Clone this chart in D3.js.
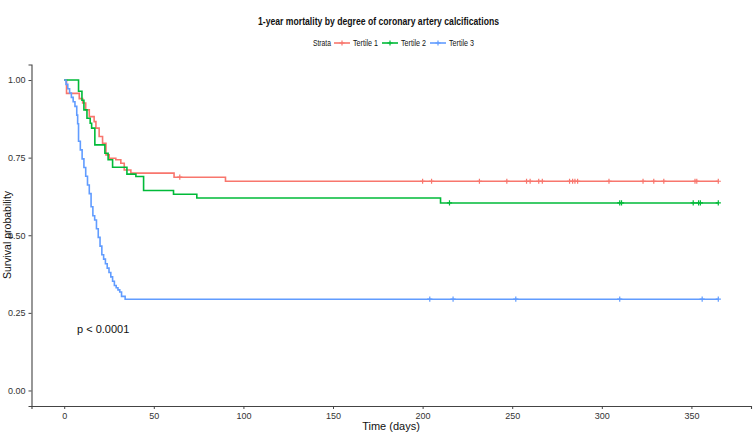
<!DOCTYPE html>
<html>
<head>
<meta charset="utf-8">
<script src="https://cdn.jsdelivr.net/npm/d3@7"></script>
<style>
  body { margin: 0; background: #fff; }
  svg { display: block; font-family: "Liberation Sans", Arial, sans-serif; }
</style>
</head>
<body>
<script>
// strata and their colours (ggplot default hue)
const strata = ['Tertile 1', 'Tertile 2', 'Tertile 3']
const colors = ['#F8766D', '#00BA38', '#619CFF']

// step times (days) and survival
const t1Times = [0, 1.3, 8.4, 10.3, 12, 14, 16.7, 17.7, 19.5, 21.4, 23.3, 25.1, 28.8, 31.6, 33.5, 37.2, 61.3, 90]
const t1Surv  = [1.00, 0.957, 0.940, 0.926, 0.904, 0.882, 0.866, 0.845, 0.818, 0.796, 0.759, 0.748, 0.743, 0.732, 0.710, 0.700, 0.687, 0.674]
const t1Censor = [64.5, 200, 205, 231.7, 247, 258, 260, 264.8, 266.8, 282, 283.7, 285, 286.5, 304, 323, 329, 334.6, 352, 353, 365]

const t2Times = [0, 8, 9.9, 11, 12.7, 14.5, 15.3, 17.1, 22.7, 24.5, 27, 35, 40, 44.3, 61, 74, 210]
const t2Surv  = [1.00, 0.964, 0.935, 0.904, 0.877, 0.861, 0.845, 0.791, 0.764, 0.743, 0.719, 0.697, 0.689, 0.644, 0.632, 0.620, 0.604]
const t2Censor = [215, 310, 311, 351, 354, 355, 365]

const t3Times = [0, 1, 2, 3, 4, 5, 6, 7, 7.5, 8, 9, 10, 11, 12, 13, 14, 15, 16, 17, 18, 19, 20, 21, 22, 23, 24, 25, 26, 27, 28, 29, 30, 31, 32, 34]
const t3Surv  = [1.00, 0.986, 0.972, 0.958, 0.944, 0.930, 0.915, 0.887, 0.859, 0.803, 0.775, 0.746, 0.718, 0.690, 0.662, 0.634, 0.592, 0.563, 0.549, 0.521, 0.493, 0.465, 0.437, 0.423, 0.408, 0.394, 0.380, 0.366, 0.352, 0.338, 0.331, 0.324, 0.317, 0.303, 0.294]
const t3Censor = [204, 217, 252, 310, 356, 365]

const xTicks = [0, 50, 100, 150, 200, 250, 300, 350]
const yTicks = [0, 0.25, 0.5, 0.75, 1]
const maxTime = 365

const series = [
  { name: strata[0], color: colors[0], times: t1Times, surv: t1Surv, censor: t1Censor },
  { name: strata[1], color: colors[1], times: t2Times, surv: t2Surv, censor: t2Censor },
  { name: strata[2], color: colors[2], times: t3Times, surv: t3Surv, censor: t3Censor },
]

const W = 753, H = 434
const svg = d3.select('body').append('svg').attr('width', W).attr('height', H)

const x = d3.scaleLinear().domain([-18.25, 383.25]).range([31.5, 751])
const y = d3.scaleLinear().domain([-0.05, 1.05]).range([406, 64.5])

const line = d3.line()
  .x(d => x(d[0]))
  .y(d => y(d[1]))
  .curve(d3.curveStepAfter)

const survAt = (s, t) => {
  let v = s.surv[0]
  s.times.forEach((tt, i) => { if (tt <= t) v = s.surv[i] })
  return v
}

const plusPath = (cx, cy, r) => `M${cx - r},${cy}H${cx + r}M${cx},${cy - r}V${cy + r}`

// curves
series.forEach(s => {
  const pts = s.times.map((t, i) => [t, s.surv[i]])
  pts.push([maxTime, s.surv[s.surv.length - 1]])
  svg.append('path')
    .attr('d', line(pts))
    .attr('fill', 'none')
    .attr('stroke', s.color)
    .attr('stroke-width', 1.6)

  svg.append('g').selectAll('path')
    .data(s.censor)
    .join('path')
    .attr('d', t => plusPath(x(t), y(survAt(s, t)), 2.6))
    .attr('stroke', s.color)
    .attr('stroke-width', 1.2)
})

// axes
const xAxis = svg.append('g')
  .attr('transform', `translate(0,406)`)
  .call(d3.axisBottom(x).tickValues(xTicks).tickSize(3).tickPadding(4))
const yAxis = svg.append('g')
  .attr('transform', `translate(31.5,0)`)
  .call(d3.axisLeft(y).tickValues(yTicks).tickSize(3).tickPadding(3).tickFormat(d3.format('.2f')))

;[xAxis, yAxis].forEach(a => {
  a.select('.domain').attr('stroke', '#444').attr('stroke-width', 1.1)
  a.selectAll('.tick line').attr('stroke', '#444')
  a.selectAll('.tick text').attr('fill', '#333').style('font-size', '9px')
    .style('font-family', '"Liberation Sans", Arial, sans-serif')
})

// labels
svg.append('text')
  .attr('x', 391).attr('y', 430)
  .attr('text-anchor', 'middle')
  .style('font-size', '11px').attr('fill', '#111')
  .text('Time (days)')

svg.append('text')
  .attr('transform', 'translate(10.5,235) rotate(-90)')
  .attr('text-anchor', 'middle')
  .style('font-size', '10.5px').attr('fill', '#111')
  .text('Survival probability')

svg.append('text')
  .attr('x', 77).attr('y', 333)
  .style('font-size', '11px').attr('fill', '#111')
  .text('p < 0.0001')

// condensed look: squeeze text into the widths seen in the picture
svg.append('text')
  .attr('x', 258).attr('y', 25)
  .attr('textLength', 241).attr('lengthAdjust', 'spacingAndGlyphs')
  .style('font-size', '10.5px').style('font-weight', 'bold').attr('fill', '#111')
  .text('1-year mortality by degree of coronary artery calcifications')

// legend
const legend = svg.append('g').attr('transform', 'translate(0,43)')
legend.append('text')
  .attr('x', 313).attr('y', 3)
  .attr('textLength', 18).attr('lengthAdjust', 'spacingAndGlyphs')
  .style('font-size', '8.5px').attr('fill', '#111')
  .text('Strata')

const legX = [334, 382, 430]
series.forEach((s, i) => {
  const g = legend.append('g').attr('transform', `translate(${legX[i]},0)`)
  g.append('line').attr('x1', 0).attr('x2', 16).attr('y1', 0).attr('y2', 0)
    .attr('stroke', s.color).attr('stroke-width', 1.6)
  g.append('path').attr('d', plusPath(8, 0, 2.6)).attr('stroke', s.color).attr('stroke-width', 1.2)
  g.append('text').attr('x', 19).attr('y', 3)
    .attr('textLength', 25).attr('lengthAdjust', 'spacingAndGlyphs')
    .style('font-size', '8.5px').attr('fill', '#111')
    .text(s.name)
})
</script>
</body>
</html>
